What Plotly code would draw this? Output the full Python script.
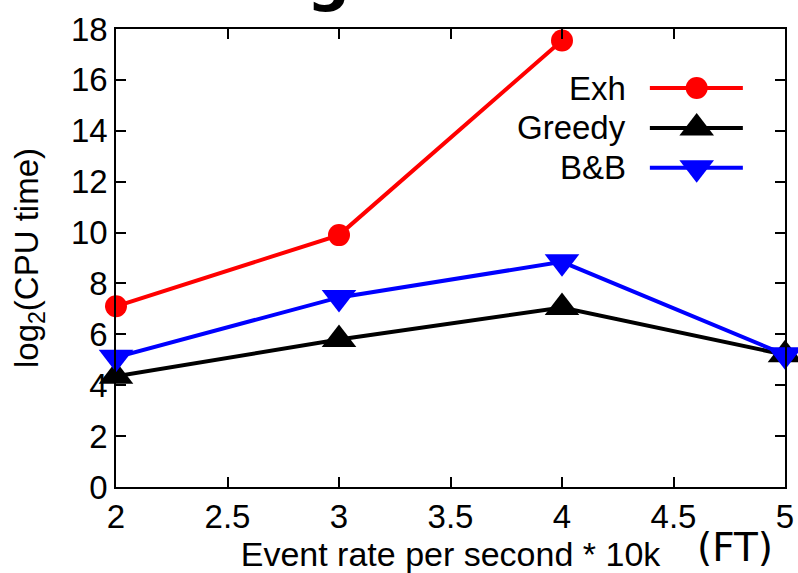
import plotly.graph_objects as go

# ---- data ----
x_exh = [2, 3, 4]
y_exh = [7.1, 9.9, 17.55]
x_greedy = [2, 3, 4, 5]
y_greedy = [4.35, 5.8, 7.05, 5.2]
x_bb = [2, 3, 4, 5]
y_bb = [5.1, 7.45, 8.85, 5.2]
x_ticks = [2, 2.5, 3, 3.5, 4, 4.5, 5]
x_ticklabels = ["2", "2.5", "3", "3.5", "4", "4.5", "5"]
y_ticks = [0, 2, 4, 6, 8, 10, 12, 14, 16, 18]
series_names = ["Exh", "Greedy", "B&B"]
series_colors = ["#ff0000", "#000000", "#0000ff"]
series_symbols = ["circle", "triangle-up", "triangle-down"]

W, H = 798, 573
ML, MR, MT, MB = 116, 13, 29, 86
FONT = "Liberation Sans, Arial, sans-serif"

fig = go.Figure()
series = [(x_exh, y_exh), (x_greedy, y_greedy), (x_bb, y_bb)]
sizes = [22, 30, 30]
for (xs, ys), name, col, sym, sz in zip(series, series_names, series_colors, series_symbols, sizes):
    fig.add_trace(go.Scatter(
        x=xs, y=ys, mode="lines+markers", name=name,
        line=dict(color=col, width=4),
        marker=dict(symbol=sym, size=sz, color=col, line=dict(width=0)),
        cliponaxis=False, showlegend=False,
    ))

# ---- manual legend (text on the left, sample on the right) ----
leg_rows = [0.871, 0.784, 0.697]
leg_x0, leg_x1, leg_xc, leg_text_x = 0.798, 0.937, 0.868, 0.765
shapes = []
annotations = []
for name, col, sym, sz, ry in zip(series_names, series_colors, series_symbols, sizes, leg_rows):
    shapes.append(dict(type="line", xref="paper", yref="paper", x0=leg_x0, x1=leg_x1, y0=ry, y1=ry,
                       line=dict(color=col, width=4)))
    fig.add_trace(go.Scatter(x=[leg_xc], y=[ry], xaxis="x2", yaxis="y2", mode="markers",
                             marker=dict(symbol=sym, size=sz, color=col, line=dict(width=0)),
                             showlegend=False, hoverinfo="skip"))
    annotations.append(dict(text=name, xref="paper", yref="paper", x=leg_text_x, y=ry,
                            xanchor="right", yanchor="middle", showarrow=False,
                            font=dict(family=FONT, size=33, color="black")))

annotations.append(dict(text="(FT)", xref="paper", yref="paper", x=0.985, y=-0.133,
                        xanchor="right", yanchor="middle", showarrow=False,
                        font=dict(family="DejaVu Sans", size=39, color="black")))
annotations.append(dict(text="<b>g</b>", xref="paper", yref="paper", x=0.318, y=1.03,
                        xanchor="center", yanchor="bottom", showarrow=False,
                        font=dict(family="DejaVu Sans", size=60, color="black")))

axis_common = dict(showgrid=False, zeroline=False, showline=True, linecolor="black", linewidth=1.5,
                   mirror="ticks", ticks="inside", ticklen=10, tickwidth=1.5, tickcolor="black",
                   automargin=False,
                   tickfont=dict(family=FONT, size=33, color="black"))

fig.update_layout(
    width=W, height=H,
    margin=dict(l=ML, r=MR, t=MT, b=MB),
    paper_bgcolor="white", plot_bgcolor="white",
    xaxis=dict(range=[2, 5], tickvals=x_ticks, ticktext=x_ticklabels,
               title=dict(text="Event rate per second * 10k", font=dict(family=FONT, size=34, color="black"),
                          standoff=2),
               **axis_common),
    yaxis=dict(range=[0, 18], tickvals=y_ticks,
               title=dict(text="log<sub>2</sub>(CPU time)", font=dict(family=FONT, size=33, color="black"),
                          standoff=22),
               **axis_common),
    xaxis2=dict(range=[0, 1], overlaying="x", visible=False, fixedrange=True),
    yaxis2=dict(range=[0, 1], overlaying="y", visible=False, fixedrange=True),
    shapes=shapes,
    annotations=annotations,
    showlegend=False,
)

fig.write_html("out.html")
